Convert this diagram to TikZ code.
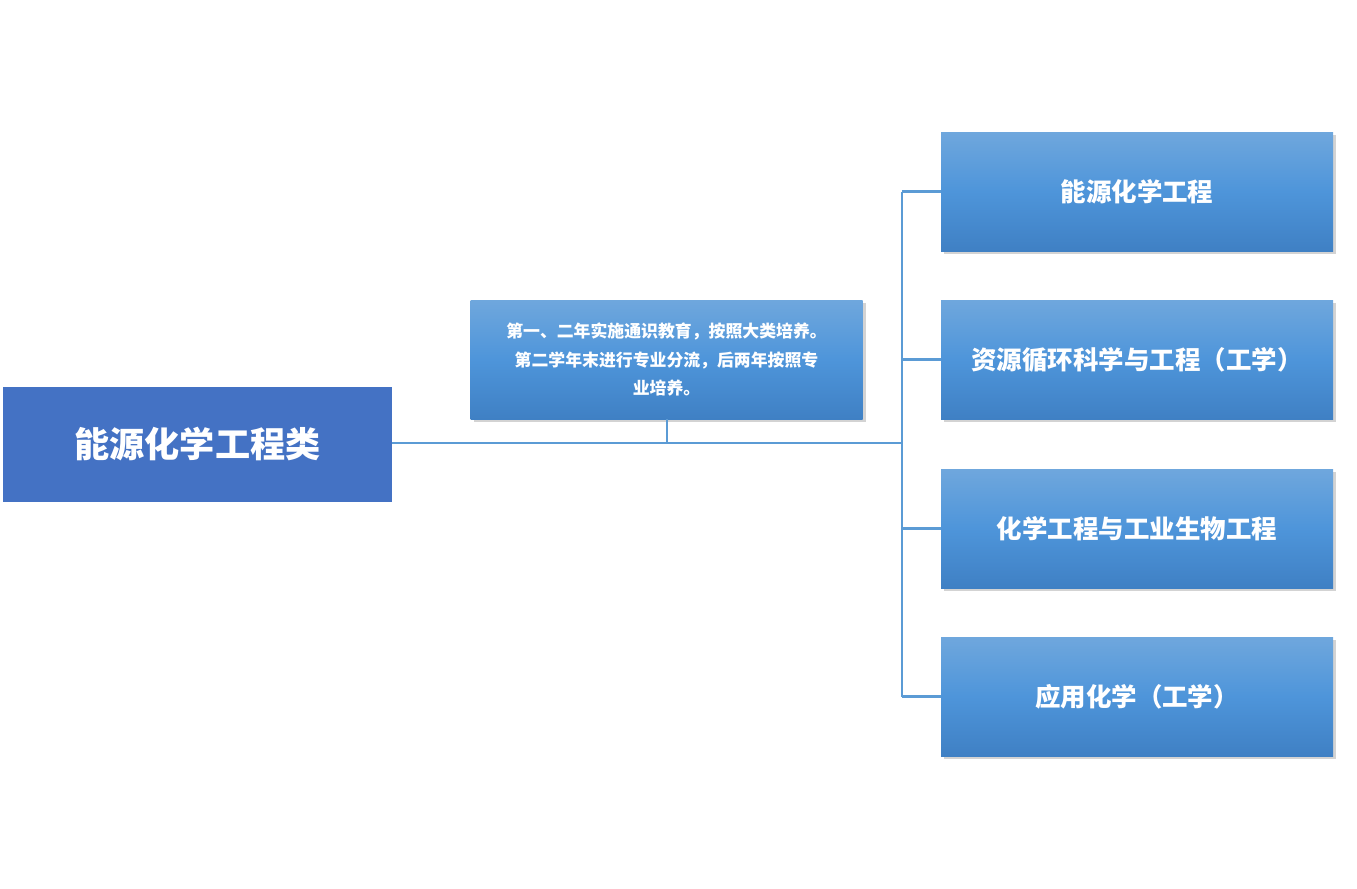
\documentclass[tikz,border=0pt]{standalone}
\usepackage{fontspec}
\setmainfont{Noto Sans CJK SC}
\usetikzlibrary{shadows}
\definecolor{lft}{HTML}{4472C4}
\definecolor{gtop}{HTML}{6FA7DD}
\definecolor{gmid}{HTML}{4E95DA}
\definecolor{gbot}{HTML}{3F80C4}
\definecolor{ln}{HTML}{5B9BD5}
\tikzset{
 gbox/.style={draw=none,minimum width=392*0.02cm,minimum height=119*0.02cm,top color=gtop,bottom color=gbot,middle color=gmid,
   drop shadow={shadow xshift=0.06cm,shadow yshift=-0.06cm,opacity=0.35},text=white,font=\bfseries\fontsize{14.5}{17}\selectfont,align=center,inner sep=0pt},
 conn/.style={draw=ln,line width=1.2pt}
}
\begin{document}
\begin{tikzpicture}[x=0.02cm,y=-0.02cm]
\useasboundingbox (0,0) rectangle (1357,889);
\node[fill=lft,minimum width=389*0.02cm,minimum height=115*0.02cm,text=white,font=\bfseries\fontsize{20}{24}\selectfont,inner sep=0pt] (root) at (197.5,444.5) {能源化学工程类};
\node[gbox,font=\bfseries\fontsize{9.6}{16}\selectfont,text width=392*0.02cm] (mid) at (666.5,359.5) {第一、二年实施通识教育，按照大类培养。\\第二学年末进行专业分流，后两年按照专\\业培养。};
\node[gbox] (a) at (1137,191.5) {能源化学工程};
\node[gbox] (b) at (1137,359.5) {资源循环科学与工程（工学）};
\node[gbox] (c) at (1137,528.5) {化学工程与工业生物工程};
\node[gbox] (d) at (1137,696.5) {应用化学（工学）};
\coordinate (j) at (902,443);
\coordinate (m) at (667,443);
\draw[conn] (root.east |- j) -- (j);
\draw[conn] (mid.south -| m) -- (m);
\draw[conn] (902,191.5) -- (902,696.5);
\foreach \n in {a,b,c,d} \draw[conn] (\n.west) -- (\n.west -| j);
\end{tikzpicture}
\end{document}
